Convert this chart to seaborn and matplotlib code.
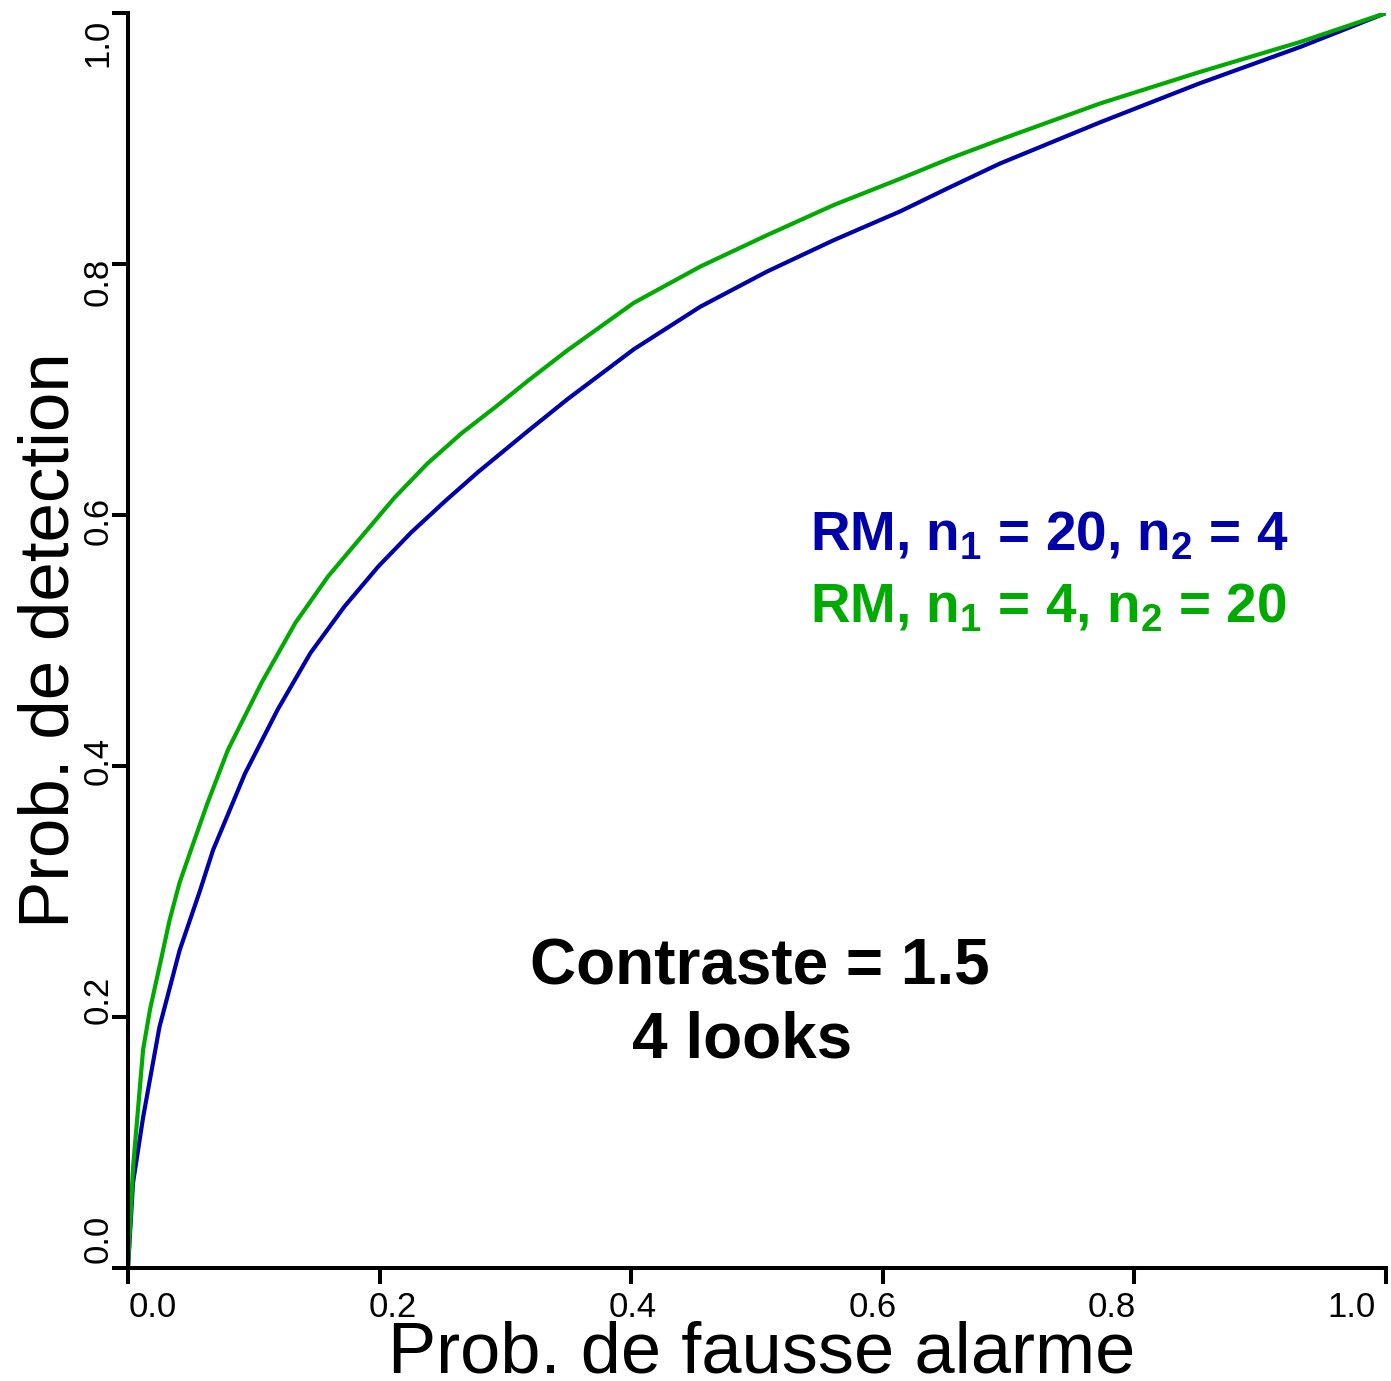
import pandas as pd
import matplotlib
matplotlib.use("Agg")
import matplotlib.pyplot as plt
import matplotlib.transforms as mtransforms
import seaborn as sns

# Courbes COR
pfa_vert = [0, 0.004, 0.012, 0.0175, 0.025, 0.033, 0.041, 0.050, 0.063, 0.0795,
            0.106, 0.133, 0.159, 0.185, 0.212, 0.238, 0.265, 0.292, 0.318, 0.349,
            0.402, 0.455, 0.508, 0.561, 0.614, 0.653, 0.693, 0.773, 0.852, 0.932, 1.0]
pd_vert = [0, 0.080, 0.174, 0.206, 0.240, 0.277, 0.307, 0.333, 0.370, 0.413,
           0.466, 0.514, 0.551, 0.582, 0.614, 0.641, 0.665, 0.686, 0.707, 0.731,
           0.769, 0.798, 0.823, 0.847, 0.868, 0.884, 0.899, 0.928, 0.953, 0.977, 1.0]

pfa_bleu = [0, 0.004, 0.012, 0.025, 0.041, 0.057, 0.0676, 0.093, 0.119, 0.145,
            0.172, 0.199, 0.225, 0.252, 0.278, 0.318, 0.349, 0.402, 0.455, 0.508,
            0.561, 0.614, 0.653, 0.693, 0.773, 0.852, 0.932, 1.0]
pd_bleu = [0, 0.068, 0.120, 0.192, 0.253, 0.300, 0.333, 0.394, 0.445, 0.490,
           0.527, 0.559, 0.586, 0.611, 0.634, 0.667, 0.692, 0.732, 0.766, 0.794,
           0.819, 0.842, 0.861, 0.880, 0.913, 0.944, 0.973, 1.0]

labels = ["RM, n$_{\\mathbf{1}}$ = 20, n$_{\\mathbf{2}}$ = 4",
          "RM, n$_{\\mathbf{1}}$ = 4, n$_{\\mathbf{2}}$ = 20"]
couleurs = ["#0000AA", "#00AA00"]
ticks = [0.0, 0.2, 0.4, 0.6, 0.8, 1.0]
tick_labels = ["0.0", "0.2", "0.4", "0.6", "0.8", "1.0"]

sns.set_style("ticks")
plt.rcParams["font.family"] = ["Liberation Sans", "DejaVu Sans"]
plt.rcParams["text.color"] = "black"
plt.rcParams["mathtext.fontset"] = "custom"
plt.rcParams["mathtext.rm"] = "Liberation Sans"
plt.rcParams["mathtext.bf"] = "Liberation Sans:bold"

df = pd.concat([
    pd.DataFrame({"pfa": pfa_bleu, "pd": pd_bleu, "courbe": "bleu"}),
    pd.DataFrame({"pfa": pfa_vert, "pd": pd_vert, "courbe": "vert"}),
])

fig = plt.figure(figsize=(13.91, 13.81), dpi=100)
ax = fig.add_axes([128 / 1391, 1 - 1268 / 1381, 1258 / 1391, 1255 / 1381])

sns.lineplot(data=df, x="pfa", y="pd", hue="courbe",
             palette={"bleu": couleurs[0], "vert": couleurs[1]},
             estimator=None, sort=False, legend=False, linewidth=3, ax=ax)

ax.set_xlim(0, 1)
ax.set_ylim(0, 1)
ax.set_xticks(ticks)
ax.set_xticklabels(tick_labels)
ax.set_yticks(ticks)
ax.set_yticklabels(tick_labels, rotation=90, va="center")
ax.tick_params(axis="both", length=11.5, width=2.9, color="black",
               labelsize=25, labelcolor="black")
ax.tick_params(axis="x", pad=5)
ax.tick_params(axis="y", pad=-2)
for s in ["top", "right"]:
    ax.spines[s].set_visible(False)
for s in ["left", "bottom"]:
    ax.spines[s].set_linewidth(2.9)
    ax.spines[s].set_color("black")

# labels legerement resserres vers le centre, comme sur l'original
for lab, v in zip(ax.get_xticklabels(), ticks):
    lab.set_transform(lab.get_transform() + mtransforms.ScaledTranslation(
        (25 - 59 * v) / 100, 0, fig.dpi_scale_trans))
for lab, v in zip(ax.get_yticklabels(), ticks):
    lab.set_transform(lab.get_transform() + mtransforms.ScaledTranslation(
        0, (29 - 59 * v) / 100, fig.dpi_scale_trans))

ax.set_xlabel("Prob. de fausse alarme", fontsize=52, color="black")
ax.set_ylabel("Prob. de detection", fontsize=51, color="black")
ax.xaxis.set_label_coords(0.504, -0.042)
ax.yaxis.set_label_coords(-0.035, 0.5)

ax.text(0.542, 0.572, labels[0], color=couleurs[0], fontsize=39.5,
        fontweight="bold", ha="left", va="baseline")
ax.text(0.542, 0.515, labels[1], color=couleurs[1], fontsize=39.5,
        fontweight="bold", ha="left", va="baseline")

ax.text(0.5024, 0.2255, "Contraste = 1.5", fontsize=46, fontweight="bold",
        color="black", ha="center", va="baseline")
ax.text(0.488, 0.168, "4 looks", fontsize=46, fontweight="bold",
        color="black", ha="center", va="baseline")

fig.savefig("out.png", dpi=100)
